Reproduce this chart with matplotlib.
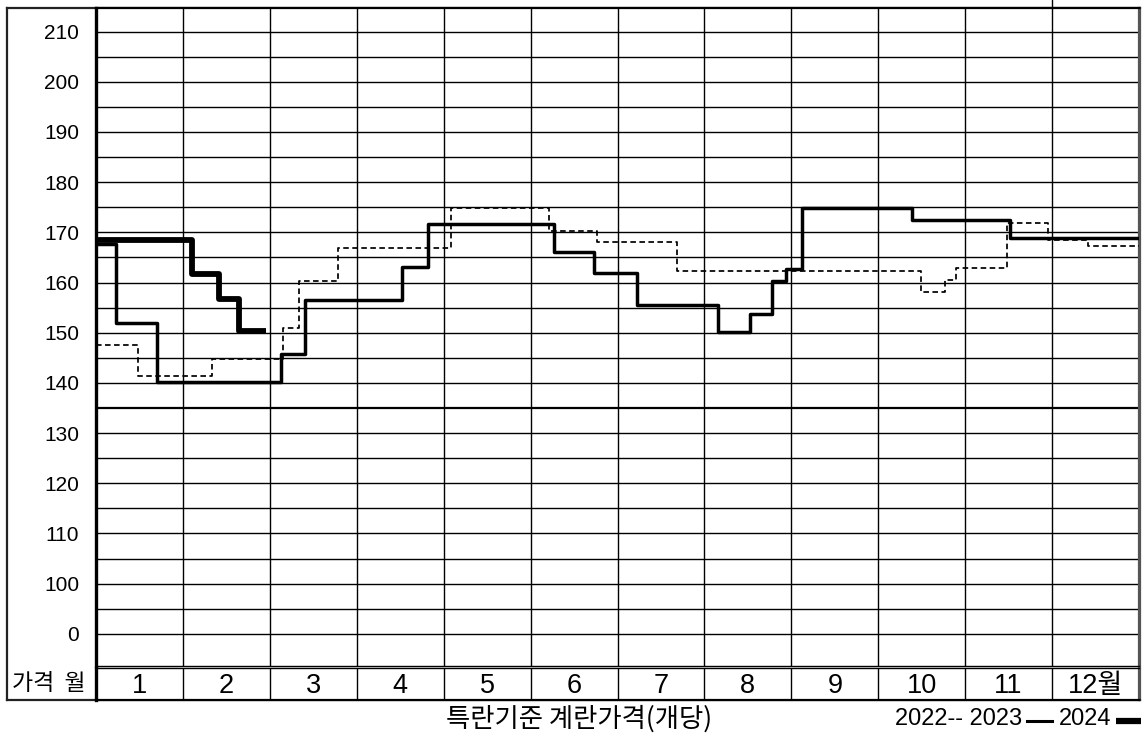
import numpy as np
import matplotlib

matplotlib.use("Agg")
import matplotlib.pyplot as plt
from matplotlib.lines import Line2D

# month positions (fractional months from the start of January) where the price changes
x_2022 = [0, 0.48, 1.33, 2.15, 2.33, 2.78, 4.09, 5.21, 5.76, 6.69, 9.49, 9.77, 9.90, 10.48, 10.95, 11.41, 12]
y_2022 = [147.6, 141.3, 144.7, 151.0, 160.4, 166.9, 174.8, 170.2, 168.0, 162.3, 158.1, 160.5, 162.9, 171.8, 168.5, 167.2, 167.2]

x_2023 = [0, 0.23, 0.70, 2.13, 2.40, 3.52, 3.82, 5.27, 5.73, 6.22, 7.16, 7.52, 7.78, 7.94, 8.12, 9.39, 10.52, 12]
y_2023 = [167.7, 151.9, 140.2, 145.7, 156.6, 163.1, 171.6, 166.0, 161.9, 155.6, 150.2, 153.7, 160.3, 162.7, 174.8, 172.5, 168.8, 168.8]

x_2024 = [0, 1.10, 1.42, 1.65, 1.96]
y_2024 = [168.5, 161.7, 156.8, 150.4, 150.4]

y_ticks = [90, 100, 110, 120, 130, 140, 150, 160, 170, 180, 190, 200, 210]
y_tick_labels = ["0", "100", "110", "120", "130", "140", "150", "160", "170", "180", "190", "200", "210"]
month_labels = ["1", "2", "3", "4", "5", "6", "7", "8", "9", "10", "11", "12월"]

W, H = 1142, 736

NUM_FONT = ["Liberation Sans", "Noto Sans CJK KR"]
NARROW_FONT = ["Liberation Sans Narrow", "Liberation Sans", "Noto Sans CJK KR"]
KR_FONT = ["Noto Sans CJK KR", "DejaVu Sans"]


def px_rect(x0, y0, x1, y1):
    """Convert a pixel box (top-left origin) to a figure-fraction rect."""
    return [x0 / W, 1 - y1 / H, (x1 - x0) / W, (y1 - y0) / H]


fig = plt.figure(figsize=(W / 100, H / 100), dpi=100)

# outer frame, covering the label column and the month row
ax_bg = fig.add_axes(px_rect(7, 8, 1140, 700))
ax_bg.set_xticks([])
ax_bg.set_yticks([])
for side, spine in ax_bg.spines.items():
    spine.set_linewidth(1.6)
    spine.set_color("#222222" if side != "right" else "#555555")

# main chart
ax = fig.add_axes(px_rect(96, 8, 1139, 666))
ax.set_xlim(0, 12)
ax.set_ylim(83.6, 214.7)

for v in np.arange(90, 211, 5):
    ax.axhline(v, color="black", lw=1.6 if v == 135 else 1.0, zorder=1)
for m in range(1, 12):
    ax.axvline(m, color="black", lw=1.0, zorder=1)
ax.plot([11, 11], [214.7, 216.5], color="black", lw=1.0, clip_on=False)

ax.step(x_2022, y_2022, where="post", color="black", lw=1.25, ls=(0, (3.2, 2.0)), zorder=3)
ax.step(x_2023, y_2023, where="post", color="black", lw=2.5, zorder=4)
ax.step(x_2024, y_2024, where="post", color="black", lw=4.2, zorder=5, solid_capstyle="butt")

ax.set_xticks([])
ax.set_yticks(y_ticks)
ax.set_yticklabels(y_tick_labels, family=NUM_FONT, fontsize=15)
ax.tick_params(axis="y", length=0, pad=12)
ax.spines["left"].set_linewidth(2.4)
ax.spines["top"].set_linewidth(1.6)
ax.spines["right"].set_linewidth(1.6)
ax.spines["right"].set_color("#555555")
ax.spines["bottom"].set_linewidth(1.0)

# month row
ax_m = fig.add_axes(px_rect(96, 668, 1139, 700))
ax_m.set_xlim(0, 12)
ax_m.set_ylim(0, 1)
ax_m.set_xticks([])
ax_m.set_yticks([])
for m in range(1, 12):
    ax_m.axvline(m, color="black", lw=1.0)
for i, lab in enumerate(month_labels):
    ax_m.text(i + 0.5, 0.45, lab, ha="center", va="center", fontsize=19.5, family=NARROW_FONT)
ax_m.spines["left"].set_linewidth(2.4)
ax_m.spines["top"].set_linewidth(1.0)
ax_m.spines["bottom"].set_linewidth(1.6)
ax_m.spines["right"].set_linewidth(1.6)
ax_m.spines["right"].set_color("#555555")

fig.text(49 / W, 1 - 684 / H, "가격  월", ha="center", va="center", fontsize=16.5, family=KR_FONT)

# caption and legend under the chart
fig.text(579 / W, 1 - 719 / H, "특란기준 계란가격(개당)", ha="center", va="center", fontsize=19, family=KR_FONT)
fig.text(895 / W, 1 - 719 / H, "2022-- 2023", ha="left", va="center", fontsize=17, family=NARROW_FONT)
fig.text(1059 / W, 1 - 719 / H, "2024", ha="left", va="center", fontsize=17, family=NARROW_FONT)
fig.add_artist(Line2D([1027 / W, 1052 / W], [1 - 721 / H, 1 - 721 / H], color="black", lw=2.2))
fig.add_artist(Line2D([1116 / W, 1141 / W], [1 - 721 / H, 1 - 721 / H], color="black", lw=4.5, solid_capstyle="butt"))

fig.savefig("out.png", dpi=100)
